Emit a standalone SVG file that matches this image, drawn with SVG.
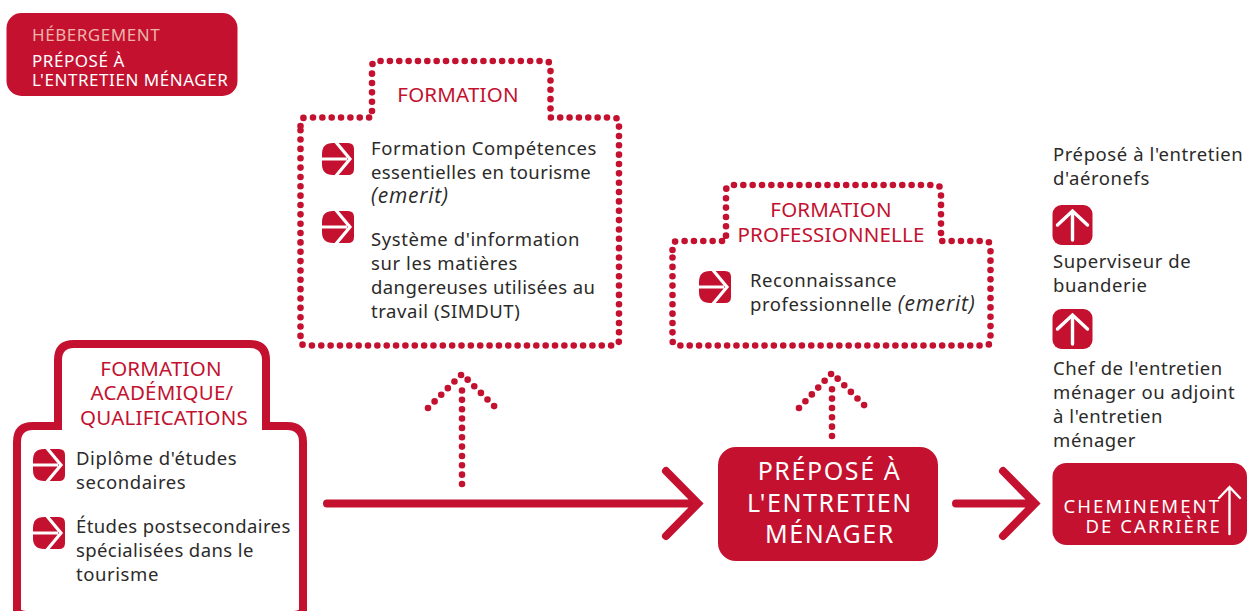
<svg xmlns="http://www.w3.org/2000/svg" xmlns:xlink="http://www.w3.org/1999/xlink" width="1247" height="611" viewBox="0 0 1247 611">
<style>
text{font-family:"Noto Sans","Open Sans","Liberation Sans",sans-serif}
.b{font-size:18.5px;fill:#2b2a29;letter-spacing:.58px}
.n{letter-spacing:.4px}
.i{font-family:"Open Sans","Noto Sans",sans-serif;font-style:italic;font-size:21px;letter-spacing:.75px}
.h{font-size:20.5px;fill:#c3112f;text-anchor:middle;letter-spacing:.2px}
.s{font-size:17px;letter-spacing:.55px}
.p{font-size:25px;text-anchor:middle;letter-spacing:1.6px}
.c{font-size:18.5px;letter-spacing:2.1px}
.w{fill:#fff}
.dot{fill:none;stroke:#c3112f;stroke-width:6.6;stroke-linecap:round;stroke-linejoin:round;stroke-dasharray:0 9.35}
.sol{fill:none;stroke:#c3112f;stroke-width:8;stroke-linecap:round;stroke-linejoin:miter;stroke-miterlimit:4}
.r{fill:#c3112f}
.wl{fill:none;stroke:#fff;stroke-linecap:round}
</style>
<defs>
<g id="go">
<path class="r" d="M11 0H26Q32 0 32 6V26Q32 32 26 32H11Q0 32 0 21V11Q0 0 11 0Z"/>
<path d="M-1 16H25M13 -2L28 16L13 34" fill="none" stroke="#fff" stroke-width="3.200"/>
</g>
<g id="up">
<rect x="0" y="0" width="40" height="40" rx="9" class="r"/>
<path d="M20 35V8M5 20L20 6L35 20" class="wl" stroke-width="3.4"/>
</g>
</defs>
<g id="connectors">
<path class="sol" d="M327 503.500H694M666 471L698 503.500L666 536"/>
<path class="sol" d="M956 503.500H1031M1003 471L1035 503.500L1003 536"/>
<path class="dot" d="M462 484V382"/>
<path class="dot" d="M428 408L462 374L496 408"/>
<path class="dot" d="M832 436V382"/>
<path class="dot" d="M799 408L832 373L867 408"/>
</g>
<g id="node-header">
<rect x="6.500" y="13" width="231" height="83" rx="15" class="r"/>
<text x="32" y="41" class="s" fill="#eeb4a8">HÉBERGEMENT</text>
<text x="32" y="67" class="s w">PRÉPOSÉ À</text>
<text x="32" y="86" class="s w">L'ENTRETIEN MÉNAGER</text>
</g>
<g id="node-formation">
<path class="dot" d="M300.500 126V123Q300.500 117.500 306 117.500H372V67Q372 61 378 61H545Q550.500 61 550.500 67V117.500H613Q619 117.500 619 123V340Q619 345.500 613 345.500H306Q300.500 345.500 300.500 340Z"/>
<text class="h" x="458" y="102">FORMATION</text>
<use xlink:href="#go" href="#go" x="322" y="143"/>
<text class="b" x="371" y="155">Formation Compétences</text>
<text class="b n" x="371" y="179">essentielles en tourisme</text>
<text class="b i" x="371" y="203">(emerit)</text>
<use xlink:href="#go" href="#go" x="322" y="211"/>
<text class="b" x="371" y="246">Système d'information</text>
<text class="b" x="371" y="270">sur les matières</text>
<text class="b n" x="371" y="294">dangereuses utilisées au</text>
<text class="b" x="371" y="318">travail (SIMDUT)</text>
</g>
<g id="node-professionnelle">
<path class="dot" d="M672.500 250V247Q672.500 241 678 241H726V191Q726 185 732 185H935Q941 185 941 191V241H985Q990.500 241 990.500 247V340Q990.500 345.500 985 345.500H678Q672.500 345.500 672.500 340Z"/>
<text class="h" x="831" y="217">FORMATION</text>
<text class="h" x="831" y="242">PROFESSIONNELLE</text>
<use xlink:href="#go" href="#go" x="699" y="271"/>
<text class="b" x="750" y="287">Reconnaissance</text>
<text class="b" x="750" y="311">professionnelle <tspan class="i">(emerit)</tspan></text>
</g>
<g id="node-academique">
<path d="M17 612V442Q17 426 33 426H58V360Q58 344 74 344H250Q266 344 266 360V426H287Q303 426 303 442V612" fill="none" stroke="#c3112f" stroke-width="8"/>
<path d="M13 596Q14 610 26 611H294Q306 610 307 596V611H13Z" class="r"/>
<text class="h" x="161" y="376">FORMATION</text>
<text class="h" x="162" y="400">ACADÉMIQUE/</text>
<text class="h" x="164" y="425">QUALIFICATIONS</text>
<use xlink:href="#go" href="#go" x="33" y="449"/>
<text class="b" x="76" y="465">Diplôme d'études</text>
<text class="b" x="76" y="489">secondaires</text>
<use xlink:href="#go" href="#go" x="33" y="517"/>
<text class="b n" x="76" y="533">Études postsecondaires</text>
<text class="b n" x="76" y="557">spécialisées dans le</text>
<text class="b" x="76" y="581">tourisme</text>
</g>
<g id="node-prepose">
<rect x="718" y="447" width="220" height="114" rx="18" class="r"/>
<text class="w p" x="829.500" y="480">PRÉPOSÉ À</text>
<text class="w p" x="830" y="512">L'ENTRETIEN</text>
<text class="w p" x="830" y="543">MÉNAGER</text>
</g>
<g id="node-carriere">
<rect x="1052.500" y="463" width="194.500" height="82" rx="14" class="r"/>
<path d="M1229.500 534V487M1219 498L1229.500 487L1240 498" class="wl" stroke-width="2.400"/>
<text class="w c" x="1063.500" y="513">CHEMINEMENT</text>
<text class="w c" x="1222" y="533" text-anchor="end">DE CARRIÈRE</text>
</g>
<g id="node-aeronefs">
<text class="b" x="1053" y="161">Préposé à l'entretien</text>
<text class="b" x="1053" y="185">d'aéronefs</text>
</g>
<g id="icon-up-1"><use xlink:href="#up" href="#up" x="1052.500" y="205"/></g>
<g id="node-buanderie">
<text class="b" x="1053" y="268">Superviseur de</text>
<text class="b" x="1053" y="292">buanderie</text>
</g>
<g id="icon-up-2"><use xlink:href="#up" href="#up" x="1052.500" y="309"/></g>
<g id="node-chef">
<text class="b" x="1053" y="375">Chef de l'entretien</text>
<text class="b" x="1053" y="399">ménager ou adjoint</text>
<text class="b" x="1053" y="423">à l'entretien</text>
<text class="b" x="1053" y="447">ménager</text>
</g>
</svg>
